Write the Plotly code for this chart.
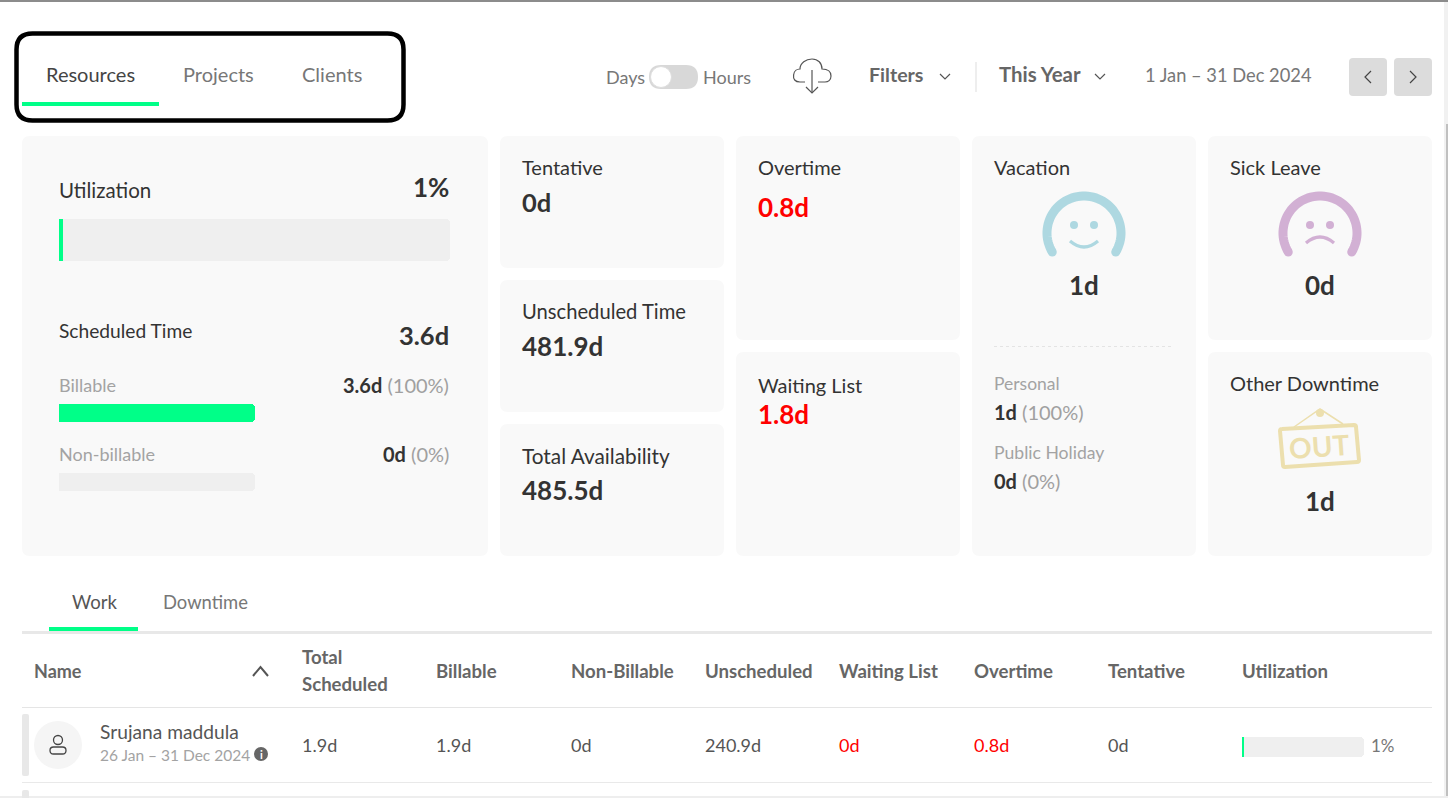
import numpy as np
import plotly.graph_objects as go

W = 1448
H = 798
FONT = "Lato"
GREEN = "#00ff88"
TRACK = "#efefef"
PANEL = "#f9f9f9"
DARK = "#333333"
GREY = "#a3a3a3"
RED = "#ff0000"

# values
tabs = ["Resources", "Projects", "Clients"]
utilization = 1
billable_pct = 100
non_billable_pct = 0
scheduled = "3.6d"
billable = "3.6d"
non_billable = "0d"
tentative = "0d"
unscheduled = "481.9d"
availability = "485.5d"
overtime = "0.8d"
waiting = "1.8d"
vacation = "1d"
sick = "0d"
other_downtime = "1d"
personal = "1d"
personal_pct = 100
public_holiday = "0d"
public_holiday_pct = 0

table_columns = ["Billable", "Non-Billable", "Unscheduled", "Waiting List", "Overtime", "Tentative", "Utilization"]
row_name = "Srujana maddula"
row_dates = "26 Jan – 31 Dec 2024"
row_total = "1.9d"
row_values = ["1.9d", "0d", "240.9d", "0d", "0.8d", "0d"]
row_utilization = 1

fig = go.Figure()
shapes = []
annotations = []


def text(x, y, s, size=20, color=DARK, anchor="left", angle=0):
    # annotations sit about a pixel off from where the text box says
    dx = 1 if anchor == "right" else -1
    annotations.append(dict(x=x+dx, y=y-1, text=s, xref="x", yref="y", showarrow=False,
                            xanchor=anchor, yanchor="middle", borderpad=0, textangle=angle,
                            font=dict(family=FONT, size=size, color=color)))


def rrect_path(x0, y0, x1, y1, r):
    return (f"M {x0+r},{y0} L {x1-r},{y0} Q {x1},{y0} {x1},{y0+r} L {x1},{y1-r} Q {x1},{y1} {x1-r},{y1} "
            f"L {x0+r},{y1} Q {x0},{y1} {x0},{y1-r} L {x0},{y0+r} Q {x0},{y0} {x0+r},{y0} Z")


def panel(x0, y0, x1, y1, r=8, fill=PANEL):
    shapes.append(dict(type="path", path=rrect_path(x0, y0, x1, y1, r), xref="x", yref="y",
                       fillcolor=fill, line=dict(width=0), layer="below"))


def stroke(path, color="#555555", width=1.3, dash="solid"):
    shapes.append(dict(type="path", path=path, xref="x", yref="y",
                       line=dict(color=color, width=width, dash=dash)))


def dot(cx, cy, r, fill, line=None, width=0):
    shapes.append(dict(type="circle", x0=cx-r, x1=cx+r, y0=cy-r, y1=cy+r, xref="x", yref="y",
                       fillcolor=fill, line=dict(color=line, width=width)))


def rect(x0, y0, x1, y1, fill):
    shapes.append(dict(type="rect", x0=x0, x1=x1, y0=y0, y1=y1, xref="x", yref="y",
                       fillcolor=fill, line=dict(width=0), layer="below"))


axis_count = 1


def progress(x0, y0, x1, y1, value):
    global axis_count
    axis_count += 1
    n = axis_count
    for v, c in [(100, TRACK), (value, GREEN)]:
        fig.add_trace(go.Bar(x=[v], y=[0], orientation="h", width=1, marker=dict(color=c, line=dict(width=0)),
                             xaxis=f"x{n}", yaxis=f"y{n}", hoverinfo="skip", showlegend=False))
    fig.update_layout({
        f"xaxis{n}": dict(domain=[x0/W, x1/W], range=[0, 100], visible=False, fixedrange=True, anchor=f"y{n}"),
        f"yaxis{n}": dict(domain=[1-y1/H, 1-y0/H], range=[-0.5, 0.5], visible=False, fixedrange=True, anchor=f"x{n}"),
    })


def face(cx, cy, color, happy):
    a = np.radians(np.linspace(211, -31, 60))
    xs = cx + 37*np.cos(a)
    ys = cy - 37*np.sin(a)
    path = "M " + " L ".join(f"{x:.1f},{y:.1f}" for x, y in zip(xs, ys))
    stroke(path, color, 9)
    dot(xs[0], ys[0], 4.5, color)
    dot(xs[-1], ys[-1], 4.5, color)
    dot(cx-10, cy-8, 4, color)
    dot(cx+10, cy-8, 4, color)
    if happy:
        stroke(f"M {cx-14},{cy+8} Q {cx},{cy+20} {cx+14},{cy+8}", color, 3.2)
    else:
        stroke(f"M {cx-14},{cy+10} Q {cx},{cy-2} {cx+14},{cy+10}", color, 3.2)


def chevron(x0, y0, x1, y1, x2, y2, color="#555555", width=1.2):
    stroke(f"M {x0},{y0} L {x1},{y1} L {x2},{y2}", color, width)


def with_pct(val, pct):
    return f'<b>{val}</b> <span style="color:#a0a0a0">({pct}%)</span>'


# page edges
rect(0, 0, W, 2, "#8c8c8c")
rect(1444, 2, W, H, "#f1f1f1")
rect(1446, 124, W, H, "#c0c0c0")
rect(0, 796, W, H, "#eeeeee")

# top tabs
stroke(rrect_path(16.5, 33.5, 403.5, 120.5, 16), "#000000", 4.5)
rect(22, 102, 159, 106, GREEN)
text(46, 75, tabs[0], 20, "#444444")
text(183, 75, tabs[1], 20, "#777777")
text(302, 75, tabs[2], 20, "#777777")

# toolbar
text(606, 78, "Days", 18, "#777777")
panel(649, 65, 698, 89, 12, "#d8d8d8")
dot(661, 77, 10.5, "#ffffff", "#dddddd", 1)
text(703, 78, "Hours", 18, "#777777")
stroke("M 805,82 L 800,82 C 795,82 793,79 793.6,75 C 794,71 797,69 800,69 C 800,63 806,59 812,59 "
       "C 818,59 822,63 822,69 C 827,69 831,71 831,76 C 831,80 828,82 825,82 L 818,82", "#555555", 1.2)
stroke("M 812,70 L 812,93", "#555555", 1.2)
chevron(806, 87, 812, 93, 818, 87)
text(869, 75, "<b>Filters</b>", 19.6, "#666666")
chevron(940, 74, 945, 79, 950, 74)
rect(975.5, 62, 976.5, 92, "#dddddd")
text(999, 75, "<b>This Year</b>", 20.4, "#666666")
chevron(1095, 74, 1100, 79, 1105, 74)
text(1145, 76, "1 Jan – 31 Dec 2024", 18.3, "#777777")
panel(1349, 58, 1387, 96, 4, "#dcdcdc")
panel(1394, 58, 1432, 96, 4, "#dcdcdc")
chevron(1371, 71, 1365, 77, 1371, 83, "#444444")
chevron(1410, 71, 1416, 77, 1410, 83, "#444444")

# cards
panel(22, 136, 488, 556)
for y0, y1 in [(136, 268), (280, 412), (424, 556)]:
    panel(500, y0, 724, y1)
for y0, y1 in [(136, 340), (352, 556)]:
    panel(736, y0, 960, y1)
    panel(1208, y0, 1432, y1)
panel(972, 136, 1196, 556)

# utilization card
text(59, 191, "Utilization", 20.5)
text(449, 188, f"<b>{utilization}%</b>", 26, anchor="right")
progress(59, 219, 450, 261, utilization)
text(59, 331, "Scheduled Time", 19.2)
text(449, 336, f"<b>{scheduled}</b>", 25.5, anchor="right")
text(59, 386, "Billable", 18, GREY)
text(449, 386, with_pct(billable, billable_pct), 20, anchor="right")
progress(59, 404, 255, 422, billable_pct)
text(59, 455, "Non-billable", 18, GREY)
text(449, 455, with_pct(non_billable, non_billable_pct), 20, anchor="right")
progress(59, 473, 255, 491, non_billable_pct)

# middle cards
text(522, 168, "Tentative", 20)
text(522, 203, f"<b>{tentative}</b>", 25.5)
text(522, 312, "Unscheduled Time", 20.2)
text(522, 347, f"<b>{unscheduled}</b>", 26)
text(522, 456, "Total Availability", 20.8)
text(522, 491, f"<b>{availability}</b>", 26)
text(758, 168, "Overtime", 20)
text(758, 208, f"<b>{overtime}</b>", 26, RED)
text(758, 386, "Waiting List", 20)
text(758, 415, f"<b>{waiting}</b>", 26, RED)

# vacation
text(994, 168, "Vacation", 20)
face(1084, 233, "#aed8e1", True)
text(1085, 286, f"<b>{vacation}</b>", 26, anchor="center")
stroke("M 994,346.5 L 1173,346.5", "#e4e4e4", 1, "dot")
text(994, 384, "Personal", 17.5, GREY)
text(994, 413, with_pct(personal, personal_pct), 20)
text(994, 453, "Public Holiday", 17.6, GREY)
text(994, 482, with_pct(public_holiday, public_holiday_pct), 20)

# sick leave, other downtime
text(1230, 168, "Sick Leave", 20)
face(1320, 233, "#d2b0d4", False)
text(1321, 286, f"<b>{sick}</b>", 26, anchor="center")
text(1230, 384, "Other Downtime", 20)
SIGN = "#ecdfae"
stroke("M 1282,429 Q 1280,429 1280,431 L 1283,465 Q 1283,467 1285,467 L 1357,462 Q 1359,462 1359,460 "
       "L 1356,427 Q 1356,425 1354,425 Z", SIGN, 4)
stroke("M 1294,427 L 1320,409 L 1343,424", SIGN, 1.5)
dot(1320, 413, 4, SIGN)
text(1320, 447, "<b>OUT</b>", 28, SIGN, "center", -4)
text(1321, 502, f"<b>{other_downtime}</b>", 26, anchor="center")

# table tabs
text(72, 603, "Work", 18.6, "#555555")
text(163, 603, "Downtime", 18.4, "#777777")
rect(22, 631, 1432, 634, "#e8e8e8")
rect(49, 627, 138, 631, GREEN)

# table header
HEAD = "#666666"
text(34, 672, "<b>Name</b>", 18, HEAD)
chevron(253, 676, 260.5, 667, 268, 676, "#555555", 2)
text(302, 658, "<b>Total</b>", 18.6, HEAD)
text(302, 685, "<b>Scheduled</b>", 18.6, HEAD)
col_x = [436, 571, 705, 839, 974, 1108, 1242]
for x, name in zip(col_x, table_columns):
    text(x, 672, f"<b>{name}</b>", 18.6, HEAD)
rect(22, 707, 1432, 708, "#e5e5e5")
rect(22, 782, 1432, 783, "#e9e9e9")

# table row
panel(22, 714, 29, 776, 2, "#e8e8e8")
panel(22, 790, 29, 800, 2, "#e8e8e8")
dot(58, 745, 24, "#f5f5f5")
dot(58, 740, 4.5, "rgba(0,0,0,0)", "#444444", 1.3)
stroke(rrect_path(50, 747, 66, 754, 3.5), "#444444", 1.3)
text(100, 732, row_name, 19.2, "#555555")
text(100, 756, row_dates, 15.5, GREY)
dot(261, 754, 7, "#666666")
text(262, 755, "<b>i</b>", 11, "#ffffff", "center")
text(302, 746, row_total, 18, "#555555")
value_colors = ["#555555", "#555555", "#555555", RED, RED, "#555555"]
for x, v, c in zip(col_x, row_values, value_colors):
    text(x, 746, v, 18, c)
progress(1242, 737, 1364, 757, row_utilization)
text(1371, 746, f"{row_utilization}%", 17, "#777777")

fig.update_layout(
    width=W, height=H, margin=dict(l=0, r=0, t=0, b=0),
    paper_bgcolor="#ffffff", plot_bgcolor="rgba(0,0,0,0)",
    barmode="overlay", barcornerradius=4, bargap=0,
    xaxis=dict(range=[0, W], domain=[0, 1], visible=False, fixedrange=True),
    yaxis=dict(range=[H, 0], domain=[0, 1], visible=False, fixedrange=True),
    shapes=shapes, annotations=annotations, showlegend=False,
)

fig.write_html("out.html", config={"displayModeBar": False},
               post_script="document.body.style.margin='0';document.body.style.overflow='hidden';")
